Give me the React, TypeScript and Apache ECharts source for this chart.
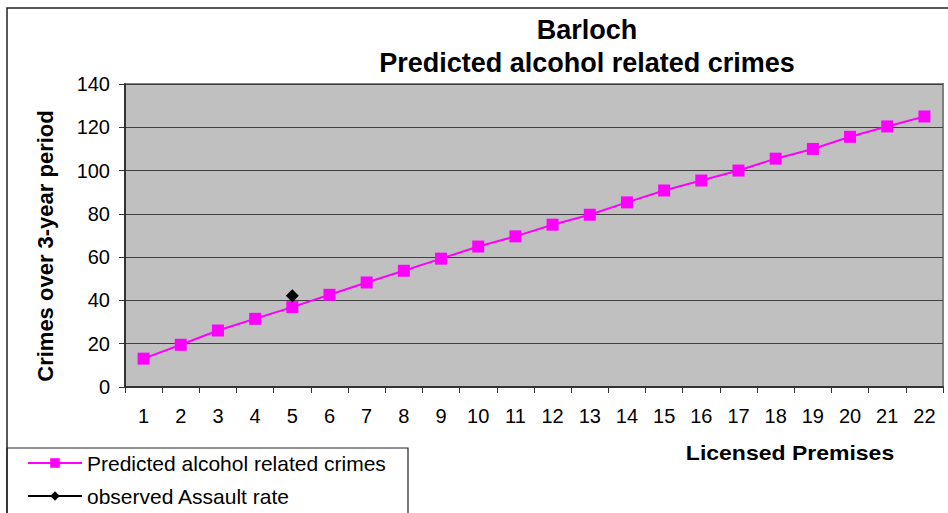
import React, { useEffect, useRef } from "react";
import * as echarts from "echarts";

const categories = ["1","2","3","4","5","6","7","8","9","10","11","12","13","14","15","16","17","18","19","20","21","22"];
const predicted = [13.1, 19.5, 26.1, 31.5, 36.9, 42.6, 48.3, 53.7, 59.3, 64.9, 69.6, 75.0, 79.6, 85.3, 90.8, 95.4, 100.0, 105.5, 110.0, 115.6, 120.4, 125.0];
const observed = [null, null, null, null, 42.2, null, null, null, null, null, null, null, null, null, null, null, null, null, null, null, null, null];
const seriesNames = ["Predicted alcohol related crimes", "observed Assault rate"];
const titleLines = ["Barloch", "Predicted alcohol related crimes"];
const yAxisTitle = "Crimes over 3-year period";
const xAxisTitle = "Licensed Premises";

const FONT = "'Liberation Sans', Arial, sans-serif";

export default function App() {
  const ref = useRef<HTMLDivElement>(null);
  useEffect(() => {
    document.body.style.margin = "0";
    const chart = echarts.init(ref.current!, undefined, { renderer: "svg" });
    chart.setOption({
      animation: false,
      backgroundColor: "#ffffff",
      textStyle: { fontFamily: FONT },
      grid: {
        left: 125,
        top: 84,
        width: 818,
        height: 303,
        show: true,
        backgroundColor: "#c0c0c0",
        borderColor: "#808080",
        borderWidth: 2,
        containLabel: false,
      },
      xAxis: {
        type: "category",
        data: categories,
        boundaryGap: true,
        axisLine: { show: true, lineStyle: { color: "#333333", width: 2 } },
        axisTick: { show: true, length: 6, inside: false, lineStyle: { color: "#333333", width: 1 } },
        axisLabel: { color: "#000000", fontSize: 20, margin: 19, fontFamily: FONT, interval: 0 },
        splitLine: { show: false },
      },
      yAxis: {
        type: "value",
        min: 0,
        max: 140,
        interval: 20,
        axisLine: { show: true, lineStyle: { color: "#333333", width: 2 } },
        axisTick: { show: true, length: 6, inside: false, lineStyle: { color: "#333333", width: 1 } },
        axisLabel: { color: "#000000", fontSize: 20, margin: 15, fontFamily: FONT },
        splitLine: { show: true, lineStyle: { color: "#404040", width: 1 } },
      },
      legend: {
        orient: "vertical",
        left: 27,
        top: 452,
        itemWidth: 54,
        itemHeight: 12,
        itemGap: 11,
        padding: 0,
        data: seriesNames,
        textStyle: { color: "#000000", fontSize: 21, fontFamily: FONT, lineHeight: 22 },
      },
      series: [
        {
          name: seriesNames[0],
          type: "line",
          data: predicted,
          symbol: "rect",
          symbolSize: 12,
          lineStyle: { color: "#ff00ff", width: 2 },
          itemStyle: { color: "#ff00ff" },
          z: 3,
        },
        {
          name: seriesNames[1],
          type: "line",
          data: observed,
          symbol: "diamond",
          symbolSize: [13, 13],
          connectNulls: false,
          lineStyle: { color: "#000000", width: 2 },
          itemStyle: { color: "#000000" },
          z: 4,
        },
      ],
      graphic: [
        {
          type: "rect",
          shape: { x: 7, y: 8, width: 960, height: 520 },
          style: { fill: "none", stroke: "#222222", lineWidth: 1.5 },
          silent: true,
          z: -10,
        },
        {
          type: "rect",
          shape: { x: 7, y: 448, width: 401, height: 80 },
          style: { fill: "none", stroke: "#222222", lineWidth: 1.2 },
          silent: true,
        },
        {
          type: "text",
          x: 587,
          y: 30,
          style: { text: titleLines[0], fill: "#000", font: `bold 27px ${FONT}`, textAlign: "center", textVerticalAlign: "middle" },
        },
        {
          type: "text",
          x: 587,
          y: 63,
          style: { text: titleLines[1], fill: "#000", font: `bold 27px ${FONT}`, textAlign: "center", textVerticalAlign: "middle" },
        },
        {
          type: "text",
          x: 45,
          y: 246,
          rotation: Math.PI / 2,
          style: { text: yAxisTitle, fill: "#000", font: `bold 22px ${FONT}`, textAlign: "center", textVerticalAlign: "middle" },
        },
        {
          type: "text",
          x: 790,
          y: 453,
          scaleX: 1.15,
          style: { text: xAxisTitle, fill: "#000", font: `bold 20px ${FONT}`, textAlign: "center", textVerticalAlign: "middle" },
        },
      ],
    });
    return () => chart.dispose();
  }, []);
  return <div ref={ref} style={{ width: 948, height: 513, position: "absolute", left: 0, top: 0 }} />;
}
